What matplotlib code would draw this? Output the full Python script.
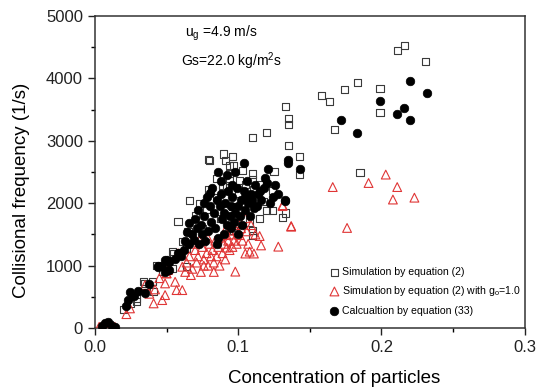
import matplotlib
matplotlib.use("Agg")
import matplotlib.pyplot as plt
from matplotlib.ticker import MultipleLocator

plt.rcParams['font.family'] = ['Liberation Sans', 'DejaVu Sans']

# Simulation by equation (2): open squares
sq_x = [0.211, 0.216, 0.231, 0.199, 0.183, 0.174, 0.158, 0.164, 0.167, 0.199, 0.185,
        0.133, 0.135, 0.135, 0.135, 0.143, 0.143, 0.133, 0.131,
        0.120, 0.110, 0.079, 0.090, 0.096, 0.091, 0.094, 0.097, 0.103, 0.085, 0.094,
        0.094, 0.101, 0.110, 0.110, 0.125, 0.079, 0.089, 0.111, 0.124, 0.096, 0.103,
        0.118, 0.120, 0.124, 0.097, 0.110, 0.110, 0.080, 0.089, 0.066, 0.073, 0.058,
        0.061, 0.054, 0.092, 0.034, 0.040, 0.041, 0.029, 0.055, 0.059, 0.054,
        0.085, 0.078, 0.070, 0.088, 0.100, 0.105, 0.115, 0.065, 0.075, 0.047, 0.043,
        0.025, 0.020, 0.108, 0.115, 0.064, 0.064, 0.035, 0.029, 0.006, 0.010]
sq_y = [4445, 4530, 4270, 3840, 3930, 3825, 3730, 3630, 3180, 3460, 2495,
        3550, 3360, 3260, 2930, 2750, 2465, 1845, 1770,
        3130, 3055, 2705, 2790, 2755, 2690, 2610, 2610, 2520, 2400, 2480,
        2370, 2370, 2470, 2385, 2510, 2225, 2265, 2225, 2200, 1955, 2000,
        2025, 1890, 1890, 1560, 1570, 1490, 2690, 2290, 2050, 2000, 1705,
        1383, 1223, 2290, 742, 742, 582, 476, 1197, 1170, 957,
        2100, 1900, 1800, 1750, 2150, 2300, 2300, 1550, 1600, 900, 1000,
        400, 300, 1700, 1750, 1278, 983, 716, 420, 30, 60]

# Simulation by equation (2) with g0=1.0: open red triangles
tr_x = [0.203, 0.191, 0.211, 0.166, 0.208, 0.223, 0.176, 0.137, 0.131,
        0.131, 0.137, 0.115, 0.128, 0.116, 0.108, 0.111, 0.105, 0.101, 0.105, 0.100,
        0.098, 0.092, 0.096, 0.094, 0.098, 0.073, 0.079, 0.091, 0.092, 0.058, 0.061, 0.050,
        0.064, 0.066, 0.068, 0.070, 0.071, 0.072, 0.074, 0.075, 0.076, 0.078, 0.079,
        0.080, 0.081, 0.082, 0.083, 0.084, 0.085, 0.086, 0.087, 0.088, 0.089, 0.090,
        0.091, 0.093, 0.094, 0.095, 0.097, 0.099, 0.102, 0.103, 0.106, 0.109, 0.112,
        0.107, 0.067, 0.069, 0.076, 0.083, 0.063,
        0.022, 0.0245, 0.035, 0.042, 0.041, 0.047, 0.049, 0.049, 0.050, 0.051, 0.056,
        0.057, 0.061, 0.038, 0.045,
        0.003, 0.006, 0.008, 0.011, 0.014, 0.004]
tr_y = [2460, 2325, 2260, 2260, 2060, 2090, 1605, 1625, 1970,
        1955, 1635, 1475, 1305, 1325, 1225, 1195, 1195, 1490, 1760, 1680,
        905, 1290, 1300, 1560, 1650, 1410, 1438, 1570, 1490, 1197, 983, 877,
        1050, 1150, 950, 1250, 1050, 1150, 900, 1300, 1100, 1200, 1000,
        1350, 1150, 1250, 1050, 1400, 1150, 1300, 1000, 1450, 1200, 1350,
        1100, 1400, 1250, 1500, 1400, 1350, 1600, 1400, 1550, 1650, 1500,
        1350, 850, 1350, 1000, 900, 900,
        224, 316, 690, 620, 396, 449, 529, 716, 877, 930, 742,
        609, 609, 550, 800,
        20, 48, 70, 30, 20, 10]

# Calculation by equation (33): filled circles
ci_x = [0.220, 0.232, 0.199, 0.216, 0.211, 0.220, 0.172, 0.183, 0.135, 0.135, 0.143, 0.133,
        0.104, 0.121, 0.096, 0.120, 0.115, 0.124, 0.133, 0.105, 0.111, 0.080, 0.076,
        0.066, 0.064, 0.069, 0.050, 0.044, 0.052,
        0.070, 0.072, 0.074, 0.076, 0.078, 0.079, 0.080, 0.081, 0.082, 0.083, 0.084,
        0.085, 0.086, 0.087, 0.088, 0.089, 0.090, 0.091, 0.092, 0.093, 0.094, 0.095,
        0.096, 0.097, 0.098, 0.099, 0.100, 0.101, 0.102, 0.103, 0.104, 0.105, 0.106,
        0.107, 0.108, 0.109, 0.110, 0.112, 0.113, 0.114, 0.116, 0.118, 0.119, 0.122,
        0.126, 0.128, 0.075, 0.077, 0.073, 0.071, 0.068, 0.066, 0.062, 0.060, 0.058,
        0.063, 0.085, 0.090, 0.095, 0.100, 0.088, 0.092, 0.098, 0.086,
        0.0245, 0.022, 0.023, 0.035, 0.044, 0.049, 0.049, 0.052, 0.059, 0.027, 0.030,
        0.038, 0.047, 0.056,
        0.007, 0.009, 0.012, 0.005, 0.014]
ci_y = [3965, 3765, 3640, 3525, 3430, 3330, 3330, 3120, 2690, 2640, 2555, 2040,
        2640, 2545, 2290, 2320, 2200, 2105, 2050, 2105, 1920, 2160, 2000,
        1680, 1545, 1410, 1090, 983, 930,
        1750, 1900, 1650, 1800, 2100, 1550, 1950, 1700, 2250, 1850, 1600,
        2050, 1450, 1950, 2150, 1750, 1850, 2000, 1650, 2200, 1800, 1950,
        2100, 1700, 1850, 2250, 1950, 1800, 2050, 1650, 2200, 1900, 2350,
        2000, 1800, 2150, 2050, 2300, 1950, 2150, 2050, 2250, 2400, 2000,
        2300, 2150, 1500, 1400, 1350, 1600, 1500, 1350, 1250, 1150, 1200,
        1400, 1350, 1500, 1600, 1500, 2350, 2450, 2500, 2500,
        582, 353, 449, 556, 994, 1090, 902, 1063, 1197, 520, 600,
        700, 1000, 1100,
        85, 100, 40, 30, 15]

fig = plt.figure(figsize=(5.36, 3.92), dpi=100)
ax = fig.add_axes([0.177, 0.163, 0.802, 0.796])

ax.scatter(sq_x, sq_y, marker='s', s=26, facecolors='none', edgecolors='#3a3a3a',
           linewidths=0.8, label='Simulation by equation (2)', zorder=2)
ax.scatter(tr_x, tr_y, marker='^', s=40, facecolors='none', edgecolors='#e03535',
           linewidths=0.8, label=r'Simulation by equation (2) with g$_\mathregular{o}$=1.0', zorder=3)
ax.scatter(ci_x, ci_y, marker='o', s=38, facecolors='black', edgecolors='black',
           linewidths=0.5, label='Calcualtion by equation (33)', zorder=4)

ax.set_xlim(0, 0.3)
ax.set_ylim(0, 5000)
ax.xaxis.set_major_locator(MultipleLocator(0.1))
ax.xaxis.set_minor_locator(MultipleLocator(0.05))
ax.yaxis.set_major_locator(MultipleLocator(1000))
ax.yaxis.set_minor_locator(MultipleLocator(500))
ax.xaxis.set_major_formatter(plt.FormatStrFormatter('%.1f'))
ax.tick_params(which='major', direction='out', length=5, width=1, labelsize=12, colors='#222222')
ax.tick_params(which='minor', direction='out', length=3, width=1)
for sp in ax.spines.values():
    sp.set_linewidth(1.1)
    sp.set_color('#333333')

ax.set_xlabel('Concentration of particles', fontsize=13.5)
ax.xaxis.set_label_coords(0.556, -0.135)
ax.set_ylabel('Collisional frequency (1/s)', fontsize=13.5)
ax.yaxis.set_label_coords(-0.15, 0.44)

ax.text(0.063, 4730, r'u$_\mathregular{g}$ =4.9 m/s', fontsize=10, va='center')
ax.text(0.060, 4270, r'Gs=22.0 kg/m$^\mathregular{2}$s', fontsize=10, va='center')

ax.legend(loc='lower left', bbox_to_anchor=(0.545, 0.04), frameon=False, fontsize=7.6,
          handletextpad=0.25, labelspacing=0.7, borderaxespad=0.0, borderpad=0.0,
          handlelength=1.0)

fig.savefig('out.png', dpi=100)
